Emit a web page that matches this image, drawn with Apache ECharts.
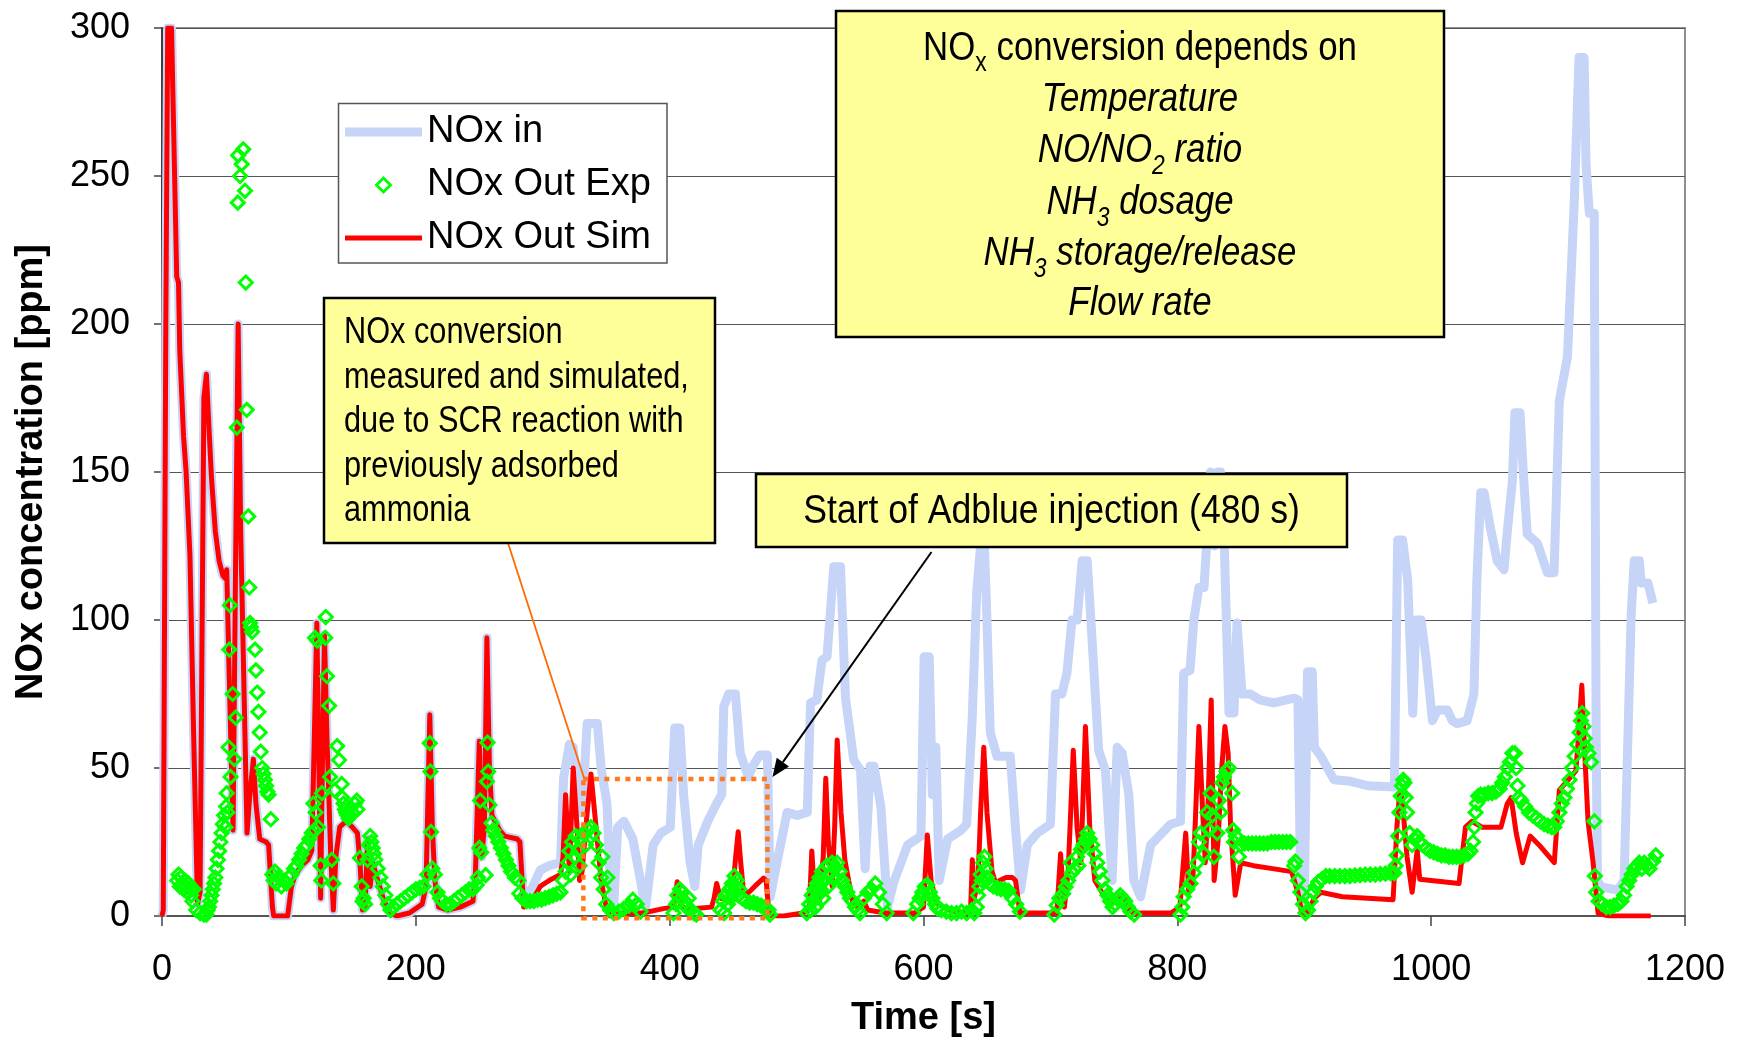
<!DOCTYPE html>
<html>
<head>
<meta charset="utf-8">
<script src="https://cdn.jsdelivr.net/npm/echarts@6/dist/echarts.min.js"></script>
<style>
html,body{margin:0;padding:0;background:#fff;}
#chart{width:1746px;height:1043px;}
</style>
</head>
<body>
<div id="chart"></div>
<script>
const FONT = "'Liberation Sans', Arial, Helvetica, sans-serif";
const BLUE = '#c5d4f7';
const RED = '#ff0000';
const GREEN = '#00ff00';

// Simulated outlet NOx [time s, ppm]
const simOut = [
  [0,0],[1,2],[3,200],[4.5,300],[7.5,300],[11.6,216],[13,214],[14,191],[17,162],[19,150],[22,122],[25,60],[28,4],
  [30,8],[33,175],[35,183],[37,165],[39,148],[42,130],[45,120],[48,115],[50,114],[51,117],[53,80],[56,29],[58,120],
  [60,200],[62,130],[67,28],[69,40],[72,53],[74,38],[77,26],[82,25],[84,24],[87,3],[88,0],[99,0],[102,10],[105,14],
  [110,17],[115,19],[118,22],[120,60],[122,99],[124,40],[125,6],[126,40],[128,95],[130,60],[133,20],[135,2],[137,20],
  [140,30],[145,32],[150,30],[154,28],[156,18],[158,2],[160,3],[162,26],[164,10],[166,18],[170,12],[175,5],[180,1],
  [185,0],[195,1],[205,4],[208,10],[211,68],[213,30],[215,12],[218,3],[225,2],[235,3],[245,5],[247,15],[250,59],
  [252,20],[254,30],[256,94],[258,50],[260,34],[266,29],[270,27],[280,26],[282,25],[285,3],[290,4],[298,10],[305,12],
  [314,14],[316,20],[318,41],[321,15],[324,50],[327,30],[329,12],[331,15],[335,35],[338,48],[342,30],[346,12],[350,3],
  [353,0],[365,1],[379,1],[395,2.5],[403,3],[406,11.6],[409,3],[420,2.5],[433,3],[435,6],[437,11],[440,6],[447,5],
  [450,10],[452,20],[454,28.5],[456,18],[458,9],[460,7],[467,10],[474,12.8],[476,12],[478,2],[480,0],[490,0],[505,1],
  [510,2],[512,22],[514,8],[518,5],[521,20],[523,46.5],[525,25],[528,10],[530,30],[532,59.5],[535,35],[538,19],[544,5],
  [548,3],[553,5],[556,2],[570,1],[593,1],[600,3],[603,27.4],[606,12],[610,4.5],[620,2],[630,1],[637,1],[638.5,19],
  [640,6],[643,12],[645,35],[647.5,57],[650,35],[654,15],[657,11],[660,12],[665,13],[670,13],[672.5,12],[676,1],
  [705,1],[708,21],[711,3],[714,15],[718,56],[721,30],[724,18],[727.6,64],[731,30],[735,12],[741,7.7],[748,4],[755,7],
  [758,6.5],[762,2],[765,1],[795,1],[802,3],[806.6,28],[809,8],[812,10],[814,30],[817,64],[820,35],[822,18],[824,35],
  [826.7,73],[829,12],[832,25],[835,50],[837.5,64],[840,55],[842,30],[845.6,7],[850,18],[860,17],[875,16],[890,15],
  [895,8],[898,1],[902,1],[908,6],[913,8],[930,6.5],[950,6],[970,5.5],[973,30],[975,41],[977,40],[981,20],[985,8],
  [989,22.3],[991,12.4],[1000,12],[1022,11],[1027,30],[1032,32],[1040,30],[1055,30],[1060,38],[1063,40],[1067,28],
  [1072,18],[1078,27],[1085,24],[1097,18],[1101,42.5],[1108,46],[1114,49],[1116,60],[1118.7,78],[1121,55],
  [1123.6,32],[1127.6,18],[1131.5,1],[1140,0],[1173,0]
];

// Inlet NOx after the point where it separates from the simulated outlet [time s, ppm]
const noxInTail = [
  [285,5],[290,8],[298,15.5],[305,17],[314,18],[316.4,46.6],[321,58],[324,57],[327,45],[329.6,34.8],[333,50],[335,65],
  [343,65],[346,50],[350.6,38],[353,12],[356,4],[359,30],[364,32],[371,26],[377,12],[380.8,2],[387,24],[393,28],
  [400.5,30],[404,63.5],[408,63.5],[411,41],[416,18.4],[419.8,10],[422.5,24],[430,32],[437,38],[441,41],[442.6,70.7],
  [446.5,75],[451.8,75],[455.6,55],[462,47],[466,51],[471,54.4],[477,54.4],[479.3,6.5],[484.7,18.4],[492.5,35],
  [500.5,34],[508.4,35],[511,72],[516,73],[520,86.5],[524,87.6],[529.3,118],[534.6,118],[538.5,74],[545,52.7],
  [550.4,49.3],[554,16],[558,50.6],[561,50.6],[566.4,37],[571.6,3],[577,12],[587.5,24],[598,27],[600.5,87.6],
  [604.5,87.6],[607,41],[609.7,57],[612.4,12],[619,26],[629.6,29],[634,31],[638.3,66],[642,110],[645,125],[648,125],
  [650,100],[652.6,62],[657.9,54],[668.4,54],[672.6,29],[676.5,8.8],[681.8,24],[689.7,28],[700,31],[704,75],[709,75],
  [713,82],[717,100],[721,100],[725,120],[729,120],[731.6,102],[738,56],[743.4,49],[748.6,12],[752.6,57],[756.5,55],
  [761.8,41],[765.7,12],[771,6.5],[779,24],[794.6,31],[802.5,32],[805,82],[810,83],[813,100],[817,111],[821,111],
  [823,125],[826,150],[829,125],[832,150],[834,150],[837,125],[840.7,68.6],[844.6,68.6],[847,99],[851,75],[857.6,75],
  [865,73],[876,72],[892,73.6],[895,73],[897.2,9],[900,3],[902.5,82.5],[906.3,82.5],[908,57],[913,54],[923.5,46],
  [936.5,45.5],[950,44],[971,43.6],[973.6,127],[977.5,127],[981.5,113.5],[985.5,68.5],[988,100],[992,100],[996,87],
  [1001,66],[1005,69.6],[1012.7,69.6],[1016.6,66],[1020.5,65],[1028.4,66],[1033.7,75],[1036,113.5],[1039,143],
  [1041.7,143],[1047,130.4],[1052,120],[1057.4,117],[1060,130],[1064,147],[1066,170],[1070,170],[1073,147],
  [1075.7,129],[1083.6,126],[1091.5,116],[1096.8,116],[1101,174],[1107.4,189],[1112.6,239.6],[1116.5,290],
  [1120.5,290],[1122,254],[1124.6,237.4],[1128.5,237.4],[1130,60],[1131,12],[1134,9.8],[1147,8.8],[1152,12],
  [1157.6,102],[1160,120],[1164,120],[1165.5,112.5],[1170.8,112.5],[1174.7,105.7]
];

// Inlet and simulated outlet coincide until conversion begins (~282 s)
const noxIn = simOut.filter(p => p[0] <= 282).concat(noxInTail);

// Measured outlet NOx [time s, ppm]
const expOut = [
  [12,12],[13,14],[14,10],[15,13],[16,11],[17,9],[18,12],[19,10],[20,8],[21,11],[22,9],[23,7],[24,5],[25,9],[27,2],
  [30,1],[33,0.5],[35,0.5],[36,2],[37,3],[38,5],[39,7],[40,9],[41,11],[42,13],[43,16],[44,19],[45,22],[46,25],[47,28],
  [48,31],[49,34],[50,30],[50.5,37],[51,41.5],[51.5,35],[52.5,57],[53,90],[53.5,105],[54,47],[55.7,75],[57,53],
  [58,67],[59,165],[59.7,241],[60,257],[61.5,250],[62.8,254],[64,259],[65.4,245],[66,214],[66.8,171],[68,135],
  [68.8,111],[69.4,99],[70,97.6],[71,96],[73.3,90],[74,83],[75,75.5],[76,69],[77,62],[77.8,55.5],[79,50],[80,48],
  [81,46],[82,44],[83,42],[84,41],[85.7,32.7],[87,14],[88,12],[89,15],[90,11],[92,13],[94,10],[96,12],[98,11],
  [100,13],[102,14],[104,16],[106,17],[108,19],[110,21],[112,23],[114,24],[116,26],[118,28],[119.3,38],[120,29],
  [120.6,94],[121,35],[122.4,93],[123,30],[125,17],[125.5,12],[126,41.5],[128.6,94],[129,101],[130,81],[131.7,71],
  [132.4,47],[133.8,19],[135,11],[136,42.5],[138,57.4],[139.5,52.7],[141.6,44.6],[142,40],[143,38],[144,36],[145,35],
  [146,34],[147,33],[148,34],[150,35],[152,38],[153.5,39],[154,36],[156,19.6],[157.4,10],[158,5],[159,6],[160,4],
  [162,19],[163,24],[164,27],[165,25],[166,23],[167,21],[168,19],[170,16],[172,13],[174,10],[176,7],[178,4],[180,2],
  [182,3],[185,4],[188,5],[191,6],[194,7],[197,8],[200,9],[203,9.5],[206,10],[209,14],[211,58.4],[211.5,48.8],
  [212,28.4],[213,16],[215,14],[217,8],[219,6],[221,5],[224,4],[227,4],[230,5],[233,6],[236,7],[239,8],[242,9],
  [245,9],[248,10.5],[249,13],[250,23],[250.7,39],[251.5,21.5],[255,13.8],[256,45.4],[256.5,58.6],[257,48.8],
  [258,37.5],[259.6,31.4],[261,29],[263,27],[265,25],[267,23],[269,21],[271,19],[273,17],[275,15],[278,13],[281,12],
  [281.5,7.6],[284,6],[287,5],[290,5],[293,5],[296,5.5],[299,5.5],[302,6],[305,6.5],[308,7],[311,7.5],
  [314,8],[316,12],[318,15],[320,18],[321,22],[322,14],[323,25],[325,20],[326,27],[328,22],[329,17],[330,26],
  [332,28],[334,24],[336,29],[338,30],[340,28],[342,24],[344,18],[346,13],[347,20],[348,9],[350,4],[351,13],[353,2],
  [356,1],[360,1.5],[364,2.5],[368,3.5],[371,5.5],[374,4],[377,1.5],
  [403,1],[405,4],[406,7],[407,5],[408,9],[409,6],[410,8],[412,5],[413,3],[415,6],[417,2],[419,1],[421,0.5],
  [440,2],[442,5],[443,1],[444,7],[446,4],[447,9],[448,6],[449,11],[450,8],[451,13.5],[452,10],[453,12],[454,7],
  [455,9],[457,6],[460,5],[463,4.5],[466,4.5],[469,4],[472,3.5],[475,3],[478,2],[479,0.5],
  [508,1],[510,4],[511,2],[512,7],[513,5],[514,9],[515,3],[516,11],[517,7],[518,13],[519,9],[520,15],[521,6],
  [522,12],[524,17],[525,10],[526,14],[528,18],[530,16],[531,13],[532,18],[534,15],[536,12],[538,10],[540,8],
  [542,6],[544,5],[546,3],[548,2],[550,1],[553,6],[556,8],[559,9],[562,11],[565,8],[568,4],[571,1],
  [592,1],[595,4],[597,6],[599,8],[601,10],[603,10.5],[605,8],[607,6],[609,4],[611,2.5],[614,2],[618,1.5],[622,1],
  [626,1],[630,1.5],[634,1],[638,2],
  [640,1],[642,3],[643,7],[644,10],[645,14],[646,12],[647,18],[648,20],[649,16],[650,13],[652,11],[655,10],
  [658,9.5],[661,9],[664,9],[667,8.5],[670,6],[673,4],[676,1.5],
  [703,0.5],[705,3.6],[707,6],[710,7.5],[712,9.8],[714,12],[716,18],[717,14.6],[719,16],[721,20],[722,17],
  [724,22.5],[726,24],[728,26],[729,28],[731,26],[733,24],[735,21],[737,18],[739,15],[741,12],[743,9],[745,7],
  [747,5],[749,3],[751,4],[753,6],[755,7],[757,6],[759,5],[761,3],[763,1.5],[766,0.5],
  [802.5,0.5],[804,3],[805,6.5],[807.8,9],[810.4,11],[813,14.6],[815.6,18],[817,25],[818.3,28],[821,21],[823.5,35],
  [825,29],[826.2,41.5],[827.6,34],[828.8,20],[831.4,28],[832.8,39],[834,35],[835.4,45],[836.7,47],[838.8,49],
  [840.6,50],[843.2,41.5],[844,29],[844.6,25],[846,27],[848.5,20],[850,24],[853,24.5],[856,24.5],[859,24.5],
  [862,24.5],[865,24.5],[868,24.5],[871,24.5],[874,25],[877,25],[880,25],[883,25],[886,25],[889,25],[892,17],
  [893,18.4],[895,12],[897,8],[899,4],[901,1],[903,2],[905,5],[907,8],[909,10],[911,11.5],[914,12.5],[917,13.5],
  [920,13.5],[924,13.5],[928,13.5],[932,13.5],[936,13.5],[940,13.7],[944,13.8],[948,14],[952,14],[956,14],
  [960,14.2],[964,14.3],[968,14.5],[971,14.5],
  [972,17],[973,20.5],[974,27],[975,35],[976,40.5],[977,44],[978,46],[979,45],[980,40],[981,35],[983,28],[985,24],
  [987,26],[989,27],[991,25],[993,24],[996,23],[999,22],[1002,21.5],[1005,21],[1008,20.5],[1011,20.5],[1014,20],
  [1017,20],[1020,20],[1023,20],[1026,20.5],[1029,21],[1031,22],[1033,25],[1034,30],[1035,35],[1036,38],
  [1037,40.5],[1039,41],[1042,41],[1045,41.5],[1048,41.5],[1051,42],[1054,43],[1056,45],[1058,47],[1060,50],
  [1062,52],[1064,55],[1066,55],[1067,50],[1068,44],[1069,40],[1071,39],[1074,37],[1077,35],[1080,34],[1083,33],
  [1086,32],[1089,31],[1092,30.5],[1095,30],[1097,30],[1099,32],[1101,35],[1103,38],[1105,40],[1107,43],[1109,46],
  [1111,50],[1113,54],[1115,58],[1117,62],[1118,66],[1119,68.5],[1120,64],[1121,60],[1122,57],[1124,55],[1126,52],
  [1128.6,32],[1129,13.5],[1130,8],[1132,5],[1135,4],[1138,3],[1141,3],[1144,3.5],[1147,4],[1150,5],[1152,7],
  [1154,10],[1156,12],[1158,14],[1160,16],[1162,17],[1164,18],[1166,16],[1168,18],[1170,17],[1172,16],[1175,18.5],
  [1177,20.5]
];

// Region where conversion happens before dosing starts, and the dosing start time
const preDoseWindow = { t0: 332, t1: 477, vLow: -0.8, vHigh: 46.3 };
const doseStart = [481, 47];

const chart = echarts.init(document.getElementById('chart'), null, { renderer: 'canvas' });

chart.setOption({
  animation: false,
  backgroundColor: '#fff',
  grid: {
    left: 162, right: 61, top: 28, bottom: 127,
    show: true, borderColor: '#8f8f8f', borderWidth: 2, backgroundColor: 'transparent'
  },
  xAxis: {
    type: 'value', min: 0, max: 1200, interval: 200,
    name: 'Time [s]', nameLocation: 'middle', nameGap: 84,
    nameTextStyle: { fontFamily: FONT, fontSize: 38, fontWeight: 'bold', color: '#000' },
    axisLine: { show: true, onZero: false, lineStyle: { color: '#555', width: 2 } },
    axisTick: { show: true, inside: false, length: 10, lineStyle: { color: '#444', width: 1.5 } },
    axisLabel: { fontFamily: FONT, fontSize: 36, color: '#000', margin: 36, formatter: v => String(v) },
    splitLine: { show: false }
  },
  yAxis: {
    type: 'value', min: 0, max: 300, interval: 50,
    name: 'NOx concentration [ppm]', nameLocation: 'middle', nameGap: 111, nameRotate: 90,
    nameTextStyle: { fontFamily: FONT, fontSize: 38, fontWeight: 'bold', color: '#000' },
    axisLine: { show: true, lineStyle: { color: '#222', width: 1.5 } },
    axisTick: { show: true, inside: false, length: 8, lineStyle: { color: '#444', width: 1.5 } },
    axisLabel: { fontFamily: FONT, fontSize: 36, color: '#000', margin: 32, formatter: v => String(v) },
    splitLine: { show: true, lineStyle: { color: '#555', width: 1.2 } }
  },
  legend: {
    orient: 'vertical', left: 345, top: 113, padding: 0,
    itemWidth: 77, itemHeight: 14, itemGap: 15, selectedMode: false, z: 6,
    textStyle: { fontFamily: FONT, fontSize: 38, color: '#000' },
    data: [
      { name: 'NOx in', icon: 'path://M0,0H77V9H0Z', itemStyle: { color: BLUE, borderWidth: 0 } },
      { name: 'NOx Out Exp', icon: 'path://M7,0L14,7L7,14L0,7Z',
        itemStyle: { color: 'rgba(0,0,0,0)', borderColor: GREEN, borderWidth: 2.8 } },
      { name: 'NOx Out Sim', icon: 'path://M0,0H77V5H0Z', itemStyle: { color: RED, borderWidth: 0 } }
    ]
  },
  series: [
    {
      name: 'NOx in', type: 'line', data: noxIn, symbol: 'none', z: 2,
      lineStyle: { color: BLUE, width: 9, join: 'round' }, itemStyle: { color: BLUE }
    },
    {
      name: 'NOx Out Sim', type: 'line', data: simOut, symbol: 'none', z: 3,
      lineStyle: { color: RED, width: 5, join: 'round' }, itemStyle: { color: RED }
    },
    {
      name: 'NOx Out Exp', type: 'scatter', data: expOut, symbol: 'diamond', symbolSize: 13, z: 4,
      itemStyle: { color: 'rgba(0,0,0,0)', borderColor: GREEN, borderWidth: 3, opacity: 1 }
    }
  ]
});

// Annotation overlays
const px = p => chart.convertToPixel({ gridIndex: 0 }, p);

function textEl(x, y, text, opt) {
  return {
    type: 'text', x: x, y: y, z: 22, scaleX: opt.scaleX || 1, silent: true,
    style: {
      text: text, x: 0, y: 0,
      align: opt.align, textAlign: opt.align,
      verticalAlign: 'middle', textVerticalAlign: 'middle',
      fontFamily: FONT, fontSize: opt.size, fontStyle: opt.italic ? 'italic' : 'normal',
      fill: '#000', rich: opt.rich
    }
  };
}

const B1 = 41, B1S = 27, B1P = 30;
const rich1 = {
  n: { fontFamily: FONT, fontSize: B1, fill: '#000' },
  ns: { fontFamily: FONT, fontSize: B1S, fill: '#000', padding: [B1P, 0, 0, 0] },
  i: { fontFamily: FONT, fontSize: B1, fontStyle: 'italic', fill: '#000' },
  is: { fontFamily: FONT, fontSize: B1S, fontStyle: 'italic', fill: '#000', padding: [B1P, 0, 0, 0] }
};

const box1Lines = [
  '{n|NO}{ns|x}{n| conversion depends on}',
  '{i|Temperature}',
  '{i|NO/NO}{is|2}{i| ratio}',
  '{i|NH}{is|3}{i| dosage}',
  '{i|NH}{is|3}{i| storage/release}',
  '{i|Flow rate}'
];
const box1Y = [49, 100, 151, 203, 254, 304];

const box2Lines = ['NOx conversion', 'measured and simulated,', 'due to SCR reaction with', 'previously adsorbed', 'ammonia'];
const box2Y = [333, 377.5, 422, 466.5, 511];

const rectTL = px([preDoseWindow.t0, preDoseWindow.vHigh]);
const rectBR = px([preDoseWindow.t1, preDoseWindow.vLow]);
const tip = px(doseStart);
const arrowStart = [931.5, 552];
const dx = tip[0] - arrowStart[0], dy = tip[1] - arrowStart[1];
const len = Math.sqrt(dx * dx + dy * dy);
const ux = dx / len, uy = dy / len;
const headL = 18, headW = 7.5;
const baseX = tip[0] - ux * headL, baseY = tip[1] - uy * headL;

const graphics = [
  // legend frame
  { type: 'rect', z: 5, silent: true, shape: { x: 338.5, y: 103.5, width: 328.5, height: 159.5 },
    style: { fill: '#fff', stroke: '#555', lineWidth: 1.5 } },
  // dependency box
  { type: 'rect', z: 20, silent: true, shape: { x: 836, y: 11, width: 608, height: 326 },
    style: { fill: '#ffff99', stroke: '#000', lineWidth: 2.5 } },
  // stored-ammonia note
  { type: 'rect', z: 20, silent: true, shape: { x: 324, y: 298, width: 391, height: 245 },
    style: { fill: '#ffff99', stroke: '#000', lineWidth: 2.5 } },
  // dosing start note
  { type: 'rect', z: 20, silent: true, shape: { x: 756, y: 474, width: 591, height: 73 },
    style: { fill: '#ffff99', stroke: '#000', lineWidth: 2.5 } },
  // dotted window
  { type: 'rect', z: 15, silent: true,
    shape: { x: rectTL[0], y: rectTL[1], width: rectBR[0] - rectTL[0], height: rectBR[1] - rectTL[1] },
    style: { fill: 'none', stroke: '#ff7a1e', lineWidth: 4.5, lineDash: [5, 5.5] } },
  // connector from note to window
  { type: 'line', z: 19, silent: true,
    shape: { x1: 508, y1: 543, x2: rectTL[0] + 1, y2: rectTL[1] },
    style: { stroke: '#ff6a00', lineWidth: 1.8 } },
  // arrow to dosing start
  { type: 'line', z: 19, silent: true,
    shape: { x1: arrowStart[0], y1: arrowStart[1], x2: baseX, y2: baseY },
    style: { stroke: '#000', lineWidth: 2 } },
  { type: 'polygon', z: 19, silent: true,
    shape: { points: [tip, [baseX - uy * headW, baseY + ux * headW], [baseX + uy * headW, baseY - ux * headW]] },
    style: { fill: '#000' } },
  textEl(1051.5, 512, 'Start of Adblue injection (480 s)', { align: 'center', size: 40, scaleX: 0.89 })
];

box1Lines.forEach((t, k) => graphics.push(textEl(1140, box1Y[k], t, { align: 'center', size: B1, scaleX: 0.85, rich: rich1 })));
box2Lines.forEach((t, k) => graphics.push(textEl(344, box2Y[k], t, { align: 'left', size: 37, scaleX: 0.83 })));

chart.setOption({ graphic: graphics });
</script>
</body>
</html>
